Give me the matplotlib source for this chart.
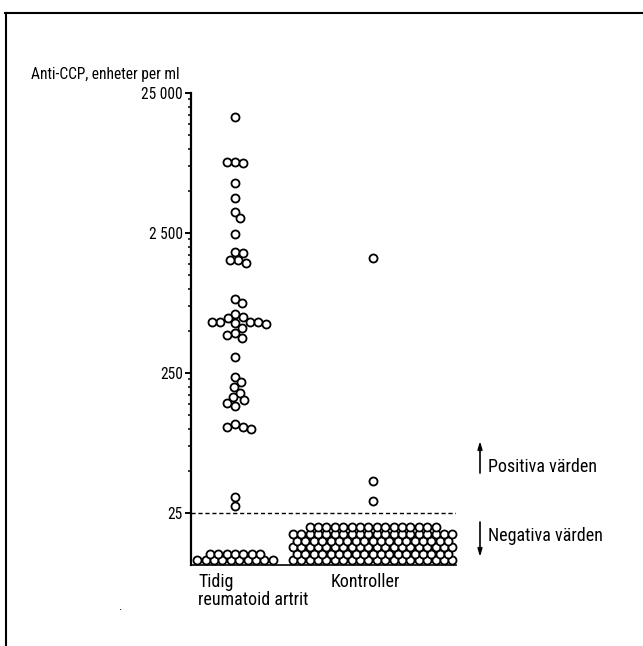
import matplotlib
matplotlib.use('Agg')
import matplotlib.pyplot as plt
from matplotlib import font_manager as fm
from matplotlib.lines import Line2D
from matplotlib.ticker import FixedLocator, NullFormatter
import numpy as np

W, H = 643, 646

# pick a narrow font if one is installed
names = {f.name for f in fm.fontManager.ttflist}
stretch = 'normal'
family = None
for cand in ['Roboto Condensed', 'Liberation Sans Narrow', 'Open Sans Condensed', 'Arial Narrow']:
    if cand in names:
        family = cand
        break
if family is None:
    if any(f.name == 'DejaVu Sans' and f.stretch in ('condensed', 'semi-condensed')
           for f in fm.fontManager.ttflist):
        family, stretch = 'DejaVu Sans', 'condensed'
    else:
        family = 'Liberation Sans'
plt.rcParams['font.family'] = [family, 'DejaVu Sans']
plt.rcParams['font.stretch'] = stretch

# data (anti-CCP, units per ml)
groups = ['Tidig\nreumatoid artrit', 'Kontroller']
ra_positive = [16900, 8100, 7950, 8040, 5720, 4470, 3550, 3180, 2450,
               1820, 1790, 1600, 1600, 1535, 840, 787,
               660, 631, 615, 581, 581, 581, 581, 566, 560, 521, 480, 467, 447,
               324, 235, 215, 200, 181, 169, 160, 152, 146,
               108, 103, 103, 99.5, 32.7, 28.0]
ra_negative = 17
ctrl_positive = [1660, 42.5, 30.5]
ctrl_negative = 114
cutoff = 25

y_ticks = [25, 250, 2500, 25000]
y_tick_labels = ['25', '250', '2 500', '25 000']
minor_ticks = [k * 25 * 10 ** n for n in range(3) for k in range(2, 10)]


def px(x, y):
    # pixel position in the image (top-left origin) -> figure fraction
    return x / W, 1 - y / H


fig = plt.figure(figsize=(W / 100, H / 100), dpi=100)
l, b = px(191, 565)
r, t = px(456, 93)
ax = fig.add_axes([l, b, r - l, t - b])
ax.set_yscale('log')
ax.set_ylim(10.64, 25000)
ax.set_xlim(-0.3195, 1.605)

ax.set_yticks(y_ticks, y_tick_labels)
ax.yaxis.set_minor_locator(FixedLocator(minor_ticks))
ax.yaxis.set_minor_formatter(NullFormatter())
ax.set_xticks([])
ax.tick_params(axis='y', which='major', length=4, width=1.4, labelsize=11.2, pad=2)
ax.tick_params(axis='y', which='minor', length=2.3, width=1.1)
for s in ['top', 'right']:
    ax.spines[s].set_visible(False)
ax.spines['left'].set_linewidth(1.6)
ax.spines['bottom'].set_linewidth(1.2)

ax.axhline(cutoff, color='black', lw=1.0, ls=(0, (3, 2)))

marker = dict(marker='o', ls='none', ms=5.8, mew=1.3, mec='black', mfc='white',
              clip_on=False, zorder=3)
d = 8.4   # spacing between circles, px


def swarm(ys):
    # place each circle as close to the centre as possible without overlap
    placed = []
    out = []
    for y in ys:
        cands = [0.0]
        for (px0, py0) in placed:
            dy = abs(y - py0)
            if dy < d:
                dx = np.sqrt(d * d - dy * dy)
                cands += [px0 + dx, px0 - dx]
        cands.sort(key=abs)
        for c in cands:
            if all((c - a) ** 2 + (y - bb) ** 2 >= d * d - 1e-6 for a, bb in placed):
                break
        placed.append((c, y))
        out.append(c)
    return np.array(out)


def draw_positive(g, values):
    pts = ax.transData.transform(np.column_stack([np.full(len(values), g), values]))
    pts[:, 0] += swarm(pts[:, 1])
    data = ax.transData.inverted().transform(pts)
    ax.plot(data[:, 0], data[:, 1], **marker)


def draw_negative(g, count, cap):
    rows = []
    left = count
    i = 0
    while left > 0:
        k = min(cap if i % 2 == 0 else cap - 1, left)
        rows.append(k)
        left -= k
        i += 1
    x0, y0 = ax.transData.transform((g, ax.get_ylim()[0]))
    pts = []
    for i, k in enumerate(rows):
        for j in range(k):
            pts.append((x0 + (j - (k - 1) / 2) * d, y0 + 4.5 + i * 6.6))
    data = ax.transData.inverted().transform(np.array(pts))
    ax.plot(data[:, 0], data[:, 1], **marker)


draw_positive(0, ra_positive)
draw_negative(0, ra_negative, 10)
draw_positive(1, ctrl_positive)
draw_negative(1, ctrl_negative, 20)

# texts
fig.text(*px(31, 75), 'Anti-CCP, enheter per ml', fontsize=11.2, va='center', ha='left')
fig.text(*px(198, 573), groups[0], fontsize=13, va='top', ha='left', linespacing=1.0)
fig.text(*px(331, 573), groups[1], fontsize=13, va='top', ha='left')
fig.text(*px(488, 467), 'Positiva värden', fontsize=13, va='center', ha='left')
fig.text(*px(488, 536), 'Negativa värden', fontsize=13, va='center', ha='left')
fig.text(*px(120, 606), '.', fontsize=9, va='center', ha='center')

arrow = dict(arrowstyle='-|>,head_length=0.45,head_width=0.13', lw=1.2, color='black',
             shrinkA=0, shrinkB=0)
ax.annotate('', xy=px(480, 441), xytext=px(480, 473), xycoords='figure fraction',
            textcoords='figure fraction', arrowprops=arrow, annotation_clip=False)
ax.annotate('', xy=px(480, 557), xytext=px(480, 522), xycoords='figure fraction',
            textcoords='figure fraction', arrowprops=arrow, annotation_clip=False)

# outer frame (top and left only)
fig.add_artist(Line2D([5 / W, 1], [1 - 13 / H] * 2, lw=1.5, color='black'))
fig.add_artist(Line2D([6 / W] * 2, [1 - 13 / H, 0], lw=1.5, color='black'))

fig.savefig('out.png', dpi=100)
